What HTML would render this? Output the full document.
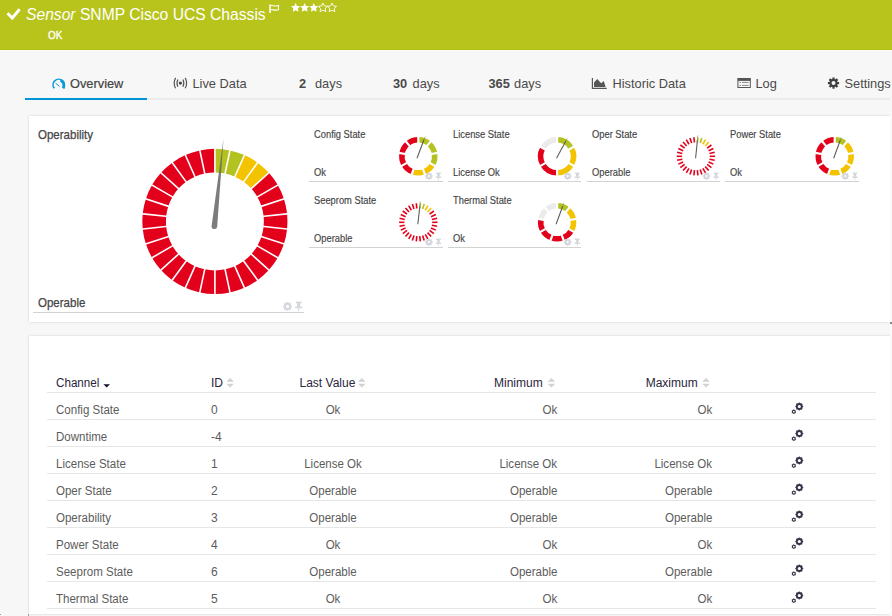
<!DOCTYPE html>
<html><head><meta charset="utf-8"><title>Sensor SNMP Cisco UCS Chassis</title>
<style>
html,body{margin:0;padding:0}
body{width:892px;height:616px;overflow:hidden;position:relative;background:#f7f7f7;font-family:"Liberation Sans",sans-serif}
.t{position:absolute;line-height:1;white-space:nowrap}
.panel{position:absolute;background:#fff;box-shadow:0 0 1px rgba(0,0,0,0.22),0 0 4px rgba(0,0,0,0.06)}
svg{position:absolute;left:0;top:0}
</style></head><body>
<div style="position:absolute;left:0;top:0;width:892px;height:50px;background:#b8c41c"></div><div style="position:absolute;left:0;top:49px;width:892px;height:1px;background:#b2bf0e"></div><div style="position:absolute;left:0;top:50px;width:892px;height:1px;background:#fcfcfd"></div><div class="t" style="left:26.3px;top:6.40px;font-size:16.3px;color:#fff;font-weight:normal;font-style:normal;transform:scaleX(0.961);transform-origin:0 0;"><i>Sensor</i> SNMP Cisco UCS Chassis</div><div class="t" style="left:47.6px;top:29.73px;font-size:10.6px;color:#fff;font-weight:normal;font-style:normal;-webkit-text-stroke:0.35px #fff;transform:scaleX(0.93);transform-origin:0 0;">OK</div><div class="t" style="left:70px;top:77.96px;font-size:12.8px;color:#444;font-weight:normal;font-style:normal;-webkit-text-stroke:0.2px #444;">Overview</div><div class="t" style="left:192.5px;top:77.96px;font-size:12.8px;color:#4a4a4a;font-weight:normal;font-style:normal;">Live Data</div><div class="t" style="left:299px;top:77.96px;font-size:12.8px;color:#4a4a4a;font-weight:normal;font-style:normal;"><b>2</b></div><div class="t" style="left:315px;top:77.96px;font-size:12.8px;color:#4a4a4a;font-weight:normal;font-style:normal;">days</div><div class="t" style="left:393px;top:77.96px;font-size:12.8px;color:#4a4a4a;font-weight:normal;font-style:normal;"><b>30</b></div><div class="t" style="left:412.6px;top:77.96px;font-size:12.8px;color:#4a4a4a;font-weight:normal;font-style:normal;">days</div><div class="t" style="left:488.5px;top:77.96px;font-size:12.8px;color:#4a4a4a;font-weight:normal;font-style:normal;"><b>365</b></div><div class="t" style="left:514.1px;top:77.96px;font-size:12.8px;color:#4a4a4a;font-weight:normal;font-style:normal;">days</div><div class="t" style="left:612.5px;top:77.96px;font-size:12.8px;color:#4a4a4a;font-weight:normal;font-style:normal;">Historic Data</div><div class="t" style="left:755.5px;top:77.96px;font-size:12.8px;color:#4a4a4a;font-weight:normal;font-style:normal;">Log</div><div class="t" style="left:844.5px;top:77.96px;font-size:12.8px;color:#4a4a4a;font-weight:normal;font-style:normal;">Settings</div><div style="position:absolute;left:25px;top:98px;width:865px;height:2px;background:#ebebeb"></div><div style="position:absolute;left:25px;top:98px;width:122px;height:2px;background:#0095d5"></div><div class="panel" style="left:29px;top:116px;width:861px;height:206px"></div><div class="panel" style="left:29px;top:336px;width:861px;height:278px"></div><div style="position:absolute;left:890px;top:112px;width:2px;height:504px;background:#fafafa"></div><div style="position:absolute;left:890px;top:322px;width:2px;height:2px;background:#8a8a8a"></div><div style="position:absolute;left:28px;top:614px;width:1px;height:2px;background:#9a9a9a"></div><div style="position:absolute;left:0px;top:614px;width:1px;height:1px;background:#9a9a9a"></div><div class="t" style="left:37.6px;top:128.70px;font-size:12.4px;color:#444;font-weight:normal;font-style:normal;-webkit-text-stroke:0.25px #444;transform:scaleX(0.93);transform-origin:0 0;">Operability</div><div class="t" style="left:37.6px;top:296.70px;font-size:12.4px;color:#444;font-weight:normal;font-style:normal;-webkit-text-stroke:0.25px #444;transform:scaleX(0.93);transform-origin:0 0;">Operable</div><div style="position:absolute;left:33px;top:312px;width:271px;height:1px;background:#d2d2d2"></div><div class="t" style="left:314px;top:129.65px;font-size:10.1px;color:#444;font-weight:normal;font-style:normal;-webkit-text-stroke:0.15px #444;transform:scaleX(0.925);transform-origin:0 0;">Config State</div><div class="t" style="left:314px;top:168.25px;font-size:10.1px;color:#444;font-weight:normal;font-style:normal;-webkit-text-stroke:0.15px #444;transform:scaleX(0.925);transform-origin:0 0;">Ok</div><div style="position:absolute;left:309px;top:181px;width:133.5px;height:1px;background:#d2d2d2"></div><div class="t" style="left:452.8px;top:129.65px;font-size:10.1px;color:#444;font-weight:normal;font-style:normal;-webkit-text-stroke:0.15px #444;transform:scaleX(0.925);transform-origin:0 0;">License State</div><div class="t" style="left:452.8px;top:168.25px;font-size:10.1px;color:#444;font-weight:normal;font-style:normal;-webkit-text-stroke:0.15px #444;transform:scaleX(0.925);transform-origin:0 0;">License Ok</div><div style="position:absolute;left:447.8px;top:181px;width:133.5px;height:1px;background:#d2d2d2"></div><div class="t" style="left:591.6px;top:129.65px;font-size:10.1px;color:#444;font-weight:normal;font-style:normal;-webkit-text-stroke:0.15px #444;transform:scaleX(0.925);transform-origin:0 0;">Oper State</div><div class="t" style="left:591.6px;top:168.25px;font-size:10.1px;color:#444;font-weight:normal;font-style:normal;-webkit-text-stroke:0.15px #444;transform:scaleX(0.925);transform-origin:0 0;">Operable</div><div style="position:absolute;left:586.6px;top:181px;width:133.5px;height:1px;background:#d2d2d2"></div><div class="t" style="left:730.4px;top:129.65px;font-size:10.1px;color:#444;font-weight:normal;font-style:normal;-webkit-text-stroke:0.15px #444;transform:scaleX(0.925);transform-origin:0 0;">Power State</div><div class="t" style="left:730.4px;top:168.25px;font-size:10.1px;color:#444;font-weight:normal;font-style:normal;-webkit-text-stroke:0.15px #444;transform:scaleX(0.925);transform-origin:0 0;">Ok</div><div style="position:absolute;left:725.4px;top:181px;width:133.5px;height:1px;background:#d2d2d2"></div><div class="t" style="left:314px;top:195.65px;font-size:10.1px;color:#444;font-weight:normal;font-style:normal;-webkit-text-stroke:0.15px #444;transform:scaleX(0.925);transform-origin:0 0;">Seeprom State</div><div class="t" style="left:314px;top:234.25px;font-size:10.1px;color:#444;font-weight:normal;font-style:normal;-webkit-text-stroke:0.15px #444;transform:scaleX(0.925);transform-origin:0 0;">Operable</div><div style="position:absolute;left:309px;top:247px;width:133.5px;height:1px;background:#d2d2d2"></div><div class="t" style="left:452.8px;top:195.65px;font-size:10.1px;color:#444;font-weight:normal;font-style:normal;-webkit-text-stroke:0.15px #444;transform:scaleX(0.925);transform-origin:0 0;">Thermal State</div><div class="t" style="left:452.8px;top:234.25px;font-size:10.1px;color:#444;font-weight:normal;font-style:normal;-webkit-text-stroke:0.15px #444;transform:scaleX(0.925);transform-origin:0 0;">Ok</div><div style="position:absolute;left:447.8px;top:247px;width:133.5px;height:1px;background:#d2d2d2"></div><div class="t" style="left:56px;top:377.14px;font-size:12px;color:#2a2540;font-weight:normal;font-style:normal;transform:scaleX(0.97);transform-origin:0 0;">Channel</div><div class="t" style="left:211px;top:377.14px;font-size:12px;color:#2a2540;font-weight:normal;font-style:normal;">ID</div><div class="t" style="left:299.5px;top:377.14px;font-size:12px;color:#2a2540;font-weight:normal;font-style:normal;">Last Value</div><div class="t" style="left:494px;top:377.14px;font-size:12px;color:#2a2540;font-weight:normal;font-style:normal;">Minimum</div><div class="t" style="left:645.7px;top:377.14px;font-size:12px;color:#2a2540;font-weight:normal;font-style:normal;">Maximum</div><div style="position:absolute;left:47px;top:392px;width:829px;height:1px;background:#e6e6e6"></div><div class="t" style="left:56px;top:404.04px;font-size:12px;color:#5c5c5c;font-weight:normal;font-style:normal;transform:scaleX(0.96);transform-origin:0 0;">Config State</div><div class="t" style="left:211px;top:404.04px;font-size:12px;color:#5c5c5c;font-weight:normal;font-style:normal;">0</div><div class="t" style="left:233.3px;width:200px;text-align:center;top:404.04px;font-size:12px;color:#5c5c5c;font-weight:normal;font-style:normal;transform:scaleX(0.96);transform-origin:50% 0;">Ok</div><div class="t" style="right:335px;text-align:right;top:404.04px;font-size:12px;color:#5c5c5c;font-weight:normal;font-style:normal;transform:scaleX(0.96);transform-origin:100% 0;">Ok</div><div class="t" style="right:180px;text-align:right;top:404.04px;font-size:12px;color:#5c5c5c;font-weight:normal;font-style:normal;transform:scaleX(0.96);transform-origin:100% 0;">Ok</div><div style="position:absolute;left:47px;top:419px;width:829px;height:1px;background:#e6e6e6"></div><div class="t" style="left:56px;top:431.04px;font-size:12px;color:#5c5c5c;font-weight:normal;font-style:normal;transform:scaleX(0.96);transform-origin:0 0;">Downtime</div><div class="t" style="left:211px;top:431.04px;font-size:12px;color:#5c5c5c;font-weight:normal;font-style:normal;">-4</div><div style="position:absolute;left:47px;top:446px;width:829px;height:1px;background:#e6e6e6"></div><div class="t" style="left:56px;top:458.04px;font-size:12px;color:#5c5c5c;font-weight:normal;font-style:normal;transform:scaleX(0.96);transform-origin:0 0;">License State</div><div class="t" style="left:211px;top:458.04px;font-size:12px;color:#5c5c5c;font-weight:normal;font-style:normal;">1</div><div class="t" style="left:233.3px;width:200px;text-align:center;top:458.04px;font-size:12px;color:#5c5c5c;font-weight:normal;font-style:normal;transform:scaleX(0.96);transform-origin:50% 0;">License Ok</div><div class="t" style="right:335px;text-align:right;top:458.04px;font-size:12px;color:#5c5c5c;font-weight:normal;font-style:normal;transform:scaleX(0.96);transform-origin:100% 0;">License Ok</div><div class="t" style="right:180px;text-align:right;top:458.04px;font-size:12px;color:#5c5c5c;font-weight:normal;font-style:normal;transform:scaleX(0.96);transform-origin:100% 0;">License Ok</div><div style="position:absolute;left:47px;top:473px;width:829px;height:1px;background:#e6e6e6"></div><div class="t" style="left:56px;top:485.04px;font-size:12px;color:#5c5c5c;font-weight:normal;font-style:normal;transform:scaleX(0.96);transform-origin:0 0;">Oper State</div><div class="t" style="left:211px;top:485.04px;font-size:12px;color:#5c5c5c;font-weight:normal;font-style:normal;">2</div><div class="t" style="left:233.3px;width:200px;text-align:center;top:485.04px;font-size:12px;color:#5c5c5c;font-weight:normal;font-style:normal;transform:scaleX(0.96);transform-origin:50% 0;">Operable</div><div class="t" style="right:335px;text-align:right;top:485.04px;font-size:12px;color:#5c5c5c;font-weight:normal;font-style:normal;transform:scaleX(0.96);transform-origin:100% 0;">Operable</div><div class="t" style="right:180px;text-align:right;top:485.04px;font-size:12px;color:#5c5c5c;font-weight:normal;font-style:normal;transform:scaleX(0.96);transform-origin:100% 0;">Operable</div><div style="position:absolute;left:47px;top:500px;width:829px;height:1px;background:#e6e6e6"></div><div class="t" style="left:56px;top:512.04px;font-size:12px;color:#5c5c5c;font-weight:normal;font-style:normal;transform:scaleX(0.96);transform-origin:0 0;">Operability</div><div class="t" style="left:211px;top:512.04px;font-size:12px;color:#5c5c5c;font-weight:normal;font-style:normal;">3</div><div class="t" style="left:233.3px;width:200px;text-align:center;top:512.04px;font-size:12px;color:#5c5c5c;font-weight:normal;font-style:normal;transform:scaleX(0.96);transform-origin:50% 0;">Operable</div><div class="t" style="right:335px;text-align:right;top:512.04px;font-size:12px;color:#5c5c5c;font-weight:normal;font-style:normal;transform:scaleX(0.96);transform-origin:100% 0;">Operable</div><div class="t" style="right:180px;text-align:right;top:512.04px;font-size:12px;color:#5c5c5c;font-weight:normal;font-style:normal;transform:scaleX(0.96);transform-origin:100% 0;">Operable</div><div style="position:absolute;left:47px;top:527px;width:829px;height:1px;background:#e6e6e6"></div><div class="t" style="left:56px;top:539.04px;font-size:12px;color:#5c5c5c;font-weight:normal;font-style:normal;transform:scaleX(0.96);transform-origin:0 0;">Power State</div><div class="t" style="left:211px;top:539.04px;font-size:12px;color:#5c5c5c;font-weight:normal;font-style:normal;">4</div><div class="t" style="left:233.3px;width:200px;text-align:center;top:539.04px;font-size:12px;color:#5c5c5c;font-weight:normal;font-style:normal;transform:scaleX(0.96);transform-origin:50% 0;">Ok</div><div class="t" style="right:335px;text-align:right;top:539.04px;font-size:12px;color:#5c5c5c;font-weight:normal;font-style:normal;transform:scaleX(0.96);transform-origin:100% 0;">Ok</div><div class="t" style="right:180px;text-align:right;top:539.04px;font-size:12px;color:#5c5c5c;font-weight:normal;font-style:normal;transform:scaleX(0.96);transform-origin:100% 0;">Ok</div><div style="position:absolute;left:47px;top:554px;width:829px;height:1px;background:#e6e6e6"></div><div class="t" style="left:56px;top:566.04px;font-size:12px;color:#5c5c5c;font-weight:normal;font-style:normal;transform:scaleX(0.96);transform-origin:0 0;">Seeprom State</div><div class="t" style="left:211px;top:566.04px;font-size:12px;color:#5c5c5c;font-weight:normal;font-style:normal;">6</div><div class="t" style="left:233.3px;width:200px;text-align:center;top:566.04px;font-size:12px;color:#5c5c5c;font-weight:normal;font-style:normal;transform:scaleX(0.96);transform-origin:50% 0;">Operable</div><div class="t" style="right:335px;text-align:right;top:566.04px;font-size:12px;color:#5c5c5c;font-weight:normal;font-style:normal;transform:scaleX(0.96);transform-origin:100% 0;">Operable</div><div class="t" style="right:180px;text-align:right;top:566.04px;font-size:12px;color:#5c5c5c;font-weight:normal;font-style:normal;transform:scaleX(0.96);transform-origin:100% 0;">Operable</div><div style="position:absolute;left:47px;top:581px;width:829px;height:1px;background:#e6e6e6"></div><div class="t" style="left:56px;top:593.04px;font-size:12px;color:#5c5c5c;font-weight:normal;font-style:normal;transform:scaleX(0.96);transform-origin:0 0;">Thermal State</div><div class="t" style="left:211px;top:593.04px;font-size:12px;color:#5c5c5c;font-weight:normal;font-style:normal;">5</div><div class="t" style="left:233.3px;width:200px;text-align:center;top:593.04px;font-size:12px;color:#5c5c5c;font-weight:normal;font-style:normal;transform:scaleX(0.96);transform-origin:50% 0;">Ok</div><div class="t" style="right:335px;text-align:right;top:593.04px;font-size:12px;color:#5c5c5c;font-weight:normal;font-style:normal;transform:scaleX(0.96);transform-origin:100% 0;">Ok</div><div class="t" style="right:180px;text-align:right;top:593.04px;font-size:12px;color:#5c5c5c;font-weight:normal;font-style:normal;transform:scaleX(0.96);transform-origin:100% 0;">Ok</div><div style="position:absolute;left:47px;top:608px;width:829px;height:1px;background:#e6e6e6"></div>
<svg width="892" height="616" viewBox="0 0 892 616"><path d="M214.90,148.80A72.6,72.6 0 0 1 229.99,150.39L225.09,173.47A49,49 0 0 0 214.90,172.40Z" fill="#b3c21e"/><path d="M229.99,150.39A72.6,72.6 0 0 1 244.43,155.08L234.83,176.64A49,49 0 0 0 225.09,173.47Z" fill="#b3c21e"/><path d="M244.43,155.08A72.6,72.6 0 0 1 257.57,162.67L243.70,181.76A49,49 0 0 0 234.83,176.64Z" fill="#f4c300"/><path d="M257.57,162.67A72.6,72.6 0 0 1 268.85,172.82L251.31,188.61A49,49 0 0 0 243.70,181.76Z" fill="#f4c300"/><path d="M268.85,172.82A72.6,72.6 0 0 1 277.77,185.10L257.34,196.90A49,49 0 0 0 251.31,188.61Z" fill="#e3001b"/><path d="M277.77,185.10A72.6,72.6 0 0 1 283.95,198.97L261.50,206.26A49,49 0 0 0 257.34,196.90Z" fill="#e3001b"/><path d="M283.95,198.97A72.6,72.6 0 0 1 287.10,213.81L263.63,216.28A49,49 0 0 0 261.50,206.26Z" fill="#e3001b"/><path d="M287.10,213.81A72.6,72.6 0 0 1 287.10,228.99L263.63,226.52A49,49 0 0 0 263.63,216.28Z" fill="#e3001b"/><path d="M287.10,228.99A72.6,72.6 0 0 1 283.95,243.83L261.50,236.54A49,49 0 0 0 263.63,226.52Z" fill="#e3001b"/><path d="M283.95,243.83A72.6,72.6 0 0 1 277.77,257.70L257.34,245.90A49,49 0 0 0 261.50,236.54Z" fill="#e3001b"/><path d="M277.77,257.70A72.6,72.6 0 0 1 268.85,269.98L251.31,254.19A49,49 0 0 0 257.34,245.90Z" fill="#e3001b"/><path d="M268.85,269.98A72.6,72.6 0 0 1 257.57,280.13L243.70,261.04A49,49 0 0 0 251.31,254.19Z" fill="#e3001b"/><path d="M257.57,280.13A72.6,72.6 0 0 1 244.43,287.72L234.83,266.16A49,49 0 0 0 243.70,261.04Z" fill="#e3001b"/><path d="M244.43,287.72A72.6,72.6 0 0 1 229.99,292.41L225.09,269.33A49,49 0 0 0 234.83,266.16Z" fill="#e3001b"/><path d="M229.99,292.41A72.6,72.6 0 0 1 214.90,294.00L214.90,270.40A49,49 0 0 0 225.09,269.33Z" fill="#e3001b"/><path d="M214.90,294.00A72.6,72.6 0 0 1 199.81,292.41L204.71,269.33A49,49 0 0 0 214.90,270.40Z" fill="#e3001b"/><path d="M199.81,292.41A72.6,72.6 0 0 1 185.37,287.72L194.97,266.16A49,49 0 0 0 204.71,269.33Z" fill="#e3001b"/><path d="M185.37,287.72A72.6,72.6 0 0 1 172.23,280.13L186.10,261.04A49,49 0 0 0 194.97,266.16Z" fill="#e3001b"/><path d="M172.23,280.13A72.6,72.6 0 0 1 160.95,269.98L178.49,254.19A49,49 0 0 0 186.10,261.04Z" fill="#e3001b"/><path d="M160.95,269.98A72.6,72.6 0 0 1 152.03,257.70L172.46,245.90A49,49 0 0 0 178.49,254.19Z" fill="#e3001b"/><path d="M152.03,257.70A72.6,72.6 0 0 1 145.85,243.83L168.30,236.54A49,49 0 0 0 172.46,245.90Z" fill="#e3001b"/><path d="M145.85,243.83A72.6,72.6 0 0 1 142.70,228.99L166.17,226.52A49,49 0 0 0 168.30,236.54Z" fill="#e3001b"/><path d="M142.70,228.99A72.6,72.6 0 0 1 142.70,213.81L166.17,216.28A49,49 0 0 0 166.17,226.52Z" fill="#e3001b"/><path d="M142.70,213.81A72.6,72.6 0 0 1 145.85,198.97L168.30,206.26A49,49 0 0 0 166.17,216.28Z" fill="#e3001b"/><path d="M145.85,198.97A72.6,72.6 0 0 1 152.03,185.10L172.46,196.90A49,49 0 0 0 168.30,206.26Z" fill="#e3001b"/><path d="M152.03,185.10A72.6,72.6 0 0 1 160.95,172.82L178.49,188.61A49,49 0 0 0 172.46,196.90Z" fill="#e3001b"/><path d="M160.95,172.82A72.6,72.6 0 0 1 172.23,162.67L186.10,181.76A49,49 0 0 0 178.49,188.61Z" fill="#e3001b"/><path d="M172.23,162.67A72.6,72.6 0 0 1 185.37,155.08L194.97,176.64A49,49 0 0 0 186.10,181.76Z" fill="#e3001b"/><path d="M185.37,155.08A72.6,72.6 0 0 1 199.81,150.39L204.71,173.47A49,49 0 0 0 194.97,176.64Z" fill="#e3001b"/><path d="M199.81,150.39A72.6,72.6 0 0 1 214.90,148.80L214.90,172.40A49,49 0 0 0 204.71,173.47Z" fill="#e3001b"/><line x1="214.90" y1="174.40" x2="214.90" y2="146.80" stroke="#fff" stroke-width="1.6"/><line x1="224.67" y1="175.43" x2="230.41" y2="148.43" stroke="#fff" stroke-width="1.6"/><line x1="234.02" y1="178.46" x2="245.24" y2="153.25" stroke="#fff" stroke-width="1.6"/><line x1="242.53" y1="183.38" x2="258.75" y2="161.05" stroke="#fff" stroke-width="1.6"/><line x1="249.83" y1="189.95" x2="270.34" y2="171.48" stroke="#fff" stroke-width="1.6"/><line x1="255.60" y1="197.90" x2="279.51" y2="184.10" stroke="#fff" stroke-width="1.6"/><line x1="259.60" y1="206.88" x2="285.85" y2="198.35" stroke="#fff" stroke-width="1.6"/><line x1="261.64" y1="216.49" x2="289.09" y2="213.60" stroke="#fff" stroke-width="1.6"/><line x1="261.64" y1="226.31" x2="289.09" y2="229.20" stroke="#fff" stroke-width="1.6"/><line x1="259.60" y1="235.92" x2="285.85" y2="244.45" stroke="#fff" stroke-width="1.6"/><line x1="255.60" y1="244.90" x2="279.51" y2="258.70" stroke="#fff" stroke-width="1.6"/><line x1="249.83" y1="252.85" x2="270.34" y2="271.32" stroke="#fff" stroke-width="1.6"/><line x1="242.53" y1="259.42" x2="258.75" y2="281.75" stroke="#fff" stroke-width="1.6"/><line x1="234.02" y1="264.34" x2="245.24" y2="289.55" stroke="#fff" stroke-width="1.6"/><line x1="224.67" y1="267.37" x2="230.41" y2="294.37" stroke="#fff" stroke-width="1.6"/><line x1="214.90" y1="268.40" x2="214.90" y2="296.00" stroke="#fff" stroke-width="1.6"/><line x1="205.13" y1="267.37" x2="199.39" y2="294.37" stroke="#fff" stroke-width="1.6"/><line x1="195.78" y1="264.34" x2="184.56" y2="289.55" stroke="#fff" stroke-width="1.6"/><line x1="187.27" y1="259.42" x2="171.05" y2="281.75" stroke="#fff" stroke-width="1.6"/><line x1="179.97" y1="252.85" x2="159.46" y2="271.32" stroke="#fff" stroke-width="1.6"/><line x1="174.20" y1="244.90" x2="150.29" y2="258.70" stroke="#fff" stroke-width="1.6"/><line x1="170.20" y1="235.92" x2="143.95" y2="244.45" stroke="#fff" stroke-width="1.6"/><line x1="168.16" y1="226.31" x2="140.71" y2="229.20" stroke="#fff" stroke-width="1.6"/><line x1="168.16" y1="216.49" x2="140.71" y2="213.60" stroke="#fff" stroke-width="1.6"/><line x1="170.20" y1="206.88" x2="143.95" y2="198.35" stroke="#fff" stroke-width="1.6"/><line x1="174.20" y1="197.90" x2="150.29" y2="184.10" stroke="#fff" stroke-width="1.6"/><line x1="179.97" y1="189.95" x2="159.46" y2="171.48" stroke="#fff" stroke-width="1.6"/><line x1="187.27" y1="183.38" x2="171.05" y2="161.05" stroke="#fff" stroke-width="1.6"/><line x1="195.78" y1="178.46" x2="184.56" y2="153.25" stroke="#fff" stroke-width="1.6"/><line x1="205.13" y1="175.43" x2="199.39" y2="148.43" stroke="#fff" stroke-width="1.6"/><path d="M217.19,226.49L223.50,138.50L211.61,225.91A2.8,2.8 0 0 0 217.19,226.49Z" fill="#666" fill-opacity="0.86"/><path d="M418.30,137.10A19.2,19.2 0 0 1 430.64,141.59L427.11,145.81A13.7,13.7 0 0 0 418.30,142.60Z" fill="#b3c21e"/><path d="M430.64,141.59A19.2,19.2 0 0 1 437.21,152.97L431.79,153.92A13.7,13.7 0 0 0 427.11,145.81Z" fill="#b3c21e"/><path d="M437.21,152.97A19.2,19.2 0 0 1 434.93,165.90L430.16,163.15A13.7,13.7 0 0 0 431.79,153.92Z" fill="#b3c21e"/><path d="M434.93,165.90A19.2,19.2 0 0 1 424.87,174.34L422.99,169.17A13.7,13.7 0 0 0 430.16,163.15Z" fill="#f4c300"/><path d="M424.87,174.34A19.2,19.2 0 0 1 411.73,174.34L413.61,169.17A13.7,13.7 0 0 0 422.99,169.17Z" fill="#f4c300"/><path d="M411.73,174.34A19.2,19.2 0 0 1 401.67,165.90L406.44,163.15A13.7,13.7 0 0 0 413.61,169.17Z" fill="#e3001b"/><path d="M401.67,165.90A19.2,19.2 0 0 1 399.39,152.97L404.81,153.92A13.7,13.7 0 0 0 406.44,163.15Z" fill="#e3001b"/><path d="M399.39,152.97A19.2,19.2 0 0 1 405.96,141.59L409.49,145.81A13.7,13.7 0 0 0 404.81,153.92Z" fill="#e3001b"/><path d="M405.96,141.59A19.2,19.2 0 0 1 418.30,137.10L418.30,142.60A13.7,13.7 0 0 0 409.49,145.81Z" fill="#e3001b"/><line x1="418.30" y1="144.60" x2="418.30" y2="135.10" stroke="#fff" stroke-width="2.2"/><line x1="425.82" y1="147.34" x2="431.93" y2="140.06" stroke="#fff" stroke-width="2.2"/><line x1="429.82" y1="154.27" x2="439.18" y2="152.62" stroke="#fff" stroke-width="2.2"/><line x1="428.43" y1="162.15" x2="436.66" y2="166.90" stroke="#fff" stroke-width="2.2"/><line x1="422.30" y1="167.29" x2="425.55" y2="176.22" stroke="#fff" stroke-width="2.2"/><line x1="414.30" y1="167.29" x2="411.05" y2="176.22" stroke="#fff" stroke-width="2.2"/><line x1="408.17" y1="162.15" x2="399.94" y2="166.90" stroke="#fff" stroke-width="2.2"/><line x1="406.78" y1="154.27" x2="397.42" y2="152.62" stroke="#fff" stroke-width="2.2"/><line x1="410.78" y1="147.34" x2="404.67" y2="140.06" stroke="#fff" stroke-width="2.2"/><line x1="417.00" y1="158.30" x2="424.05" y2="139.55" stroke="#5a5a5a" stroke-width="1.05"/><line x1="424.05" y1="139.55" x2="425.20" y2="136.50" stroke="#777" stroke-opacity="0.7" stroke-width="0.7"/><path d="M557.10,137.10A19.2,19.2 0 0 1 573.73,146.70L568.96,149.45A13.7,13.7 0 0 0 557.10,142.60Z" fill="#b3c21e"/><path d="M573.73,146.70A19.2,19.2 0 0 1 573.73,165.90L568.96,163.15A13.7,13.7 0 0 0 568.96,149.45Z" fill="#f4c300"/><path d="M573.73,165.90A19.2,19.2 0 0 1 557.10,175.50L557.10,170.00A13.7,13.7 0 0 0 568.96,163.15Z" fill="#f4c300"/><path d="M557.10,175.50A19.2,19.2 0 0 1 540.47,165.90L545.24,163.15A13.7,13.7 0 0 0 557.10,170.00Z" fill="#e3001b"/><path d="M540.47,165.90A19.2,19.2 0 0 1 540.47,146.70L545.24,149.45A13.7,13.7 0 0 0 545.24,163.15Z" fill="#e3001b"/><path d="M540.47,146.70A19.2,19.2 0 0 1 557.10,137.10L557.10,142.60A13.7,13.7 0 0 0 545.24,149.45Z" fill="#ebebeb"/><line x1="557.10" y1="144.60" x2="557.10" y2="135.10" stroke="#fff" stroke-width="2.2"/><line x1="567.23" y1="150.45" x2="575.46" y2="145.70" stroke="#fff" stroke-width="2.2"/><line x1="567.23" y1="162.15" x2="575.46" y2="166.90" stroke="#fff" stroke-width="2.2"/><line x1="557.10" y1="168.00" x2="557.10" y2="177.50" stroke="#fff" stroke-width="2.2"/><line x1="546.97" y1="162.15" x2="538.74" y2="166.90" stroke="#fff" stroke-width="2.2"/><line x1="546.97" y1="150.45" x2="538.74" y2="145.70" stroke="#fff" stroke-width="2.2"/><line x1="556.50" y1="158.30" x2="565.87" y2="141.10" stroke="#5a5a5a" stroke-width="1.05"/><line x1="565.87" y1="141.10" x2="567.40" y2="138.30" stroke="#777" stroke-opacity="0.7" stroke-width="0.7"/><line x1="697.35" y1="142.48" x2="697.91" y2="137.21" stroke="#b3c21e" stroke-width="1.6"/><line x1="700.20" y1="143.08" x2="701.83" y2="138.04" stroke="#b3c21e" stroke-width="1.6"/><line x1="702.85" y1="144.26" x2="705.50" y2="139.67" stroke="#f4c300" stroke-width="1.6"/><line x1="705.20" y1="145.97" x2="708.75" y2="142.03" stroke="#f4c300" stroke-width="1.6"/><line x1="707.15" y1="148.13" x2="711.43" y2="145.01" stroke="#e3001b" stroke-width="1.6"/><line x1="708.60" y1="150.65" x2="713.44" y2="148.49" stroke="#e3001b" stroke-width="1.6"/><line x1="709.50" y1="153.41" x2="714.68" y2="152.31" stroke="#e3001b" stroke-width="1.6"/><line x1="709.80" y1="156.30" x2="715.10" y2="156.30" stroke="#e3001b" stroke-width="1.6"/><line x1="709.50" y1="159.19" x2="714.68" y2="160.29" stroke="#e3001b" stroke-width="1.6"/><line x1="708.60" y1="161.95" x2="713.44" y2="164.11" stroke="#e3001b" stroke-width="1.6"/><line x1="707.15" y1="164.47" x2="711.43" y2="167.59" stroke="#e3001b" stroke-width="1.6"/><line x1="705.20" y1="166.63" x2="708.75" y2="170.57" stroke="#e3001b" stroke-width="1.6"/><line x1="702.85" y1="168.34" x2="705.50" y2="172.93" stroke="#e3001b" stroke-width="1.6"/><line x1="700.20" y1="169.52" x2="701.83" y2="174.56" stroke="#e3001b" stroke-width="1.6"/><line x1="697.35" y1="170.12" x2="697.91" y2="175.39" stroke="#e3001b" stroke-width="1.6"/><line x1="694.45" y1="170.12" x2="693.89" y2="175.39" stroke="#e3001b" stroke-width="1.6"/><line x1="691.60" y1="169.52" x2="689.97" y2="174.56" stroke="#e3001b" stroke-width="1.6"/><line x1="688.95" y1="168.34" x2="686.30" y2="172.93" stroke="#e3001b" stroke-width="1.6"/><line x1="686.60" y1="166.63" x2="683.05" y2="170.57" stroke="#e3001b" stroke-width="1.6"/><line x1="684.65" y1="164.47" x2="680.37" y2="167.59" stroke="#e3001b" stroke-width="1.6"/><line x1="683.20" y1="161.95" x2="678.36" y2="164.11" stroke="#e3001b" stroke-width="1.6"/><line x1="682.30" y1="159.19" x2="677.12" y2="160.29" stroke="#e3001b" stroke-width="1.6"/><line x1="682.00" y1="156.30" x2="676.70" y2="156.30" stroke="#e3001b" stroke-width="1.6"/><line x1="682.30" y1="153.41" x2="677.12" y2="152.31" stroke="#e3001b" stroke-width="1.6"/><line x1="683.20" y1="150.65" x2="678.36" y2="148.49" stroke="#e3001b" stroke-width="1.6"/><line x1="684.65" y1="148.13" x2="680.37" y2="145.01" stroke="#e3001b" stroke-width="1.6"/><line x1="686.60" y1="145.97" x2="683.05" y2="142.03" stroke="#e3001b" stroke-width="1.6"/><line x1="688.95" y1="144.26" x2="686.30" y2="139.67" stroke="#e3001b" stroke-width="1.6"/><line x1="691.60" y1="143.08" x2="689.97" y2="138.04" stroke="#e3001b" stroke-width="1.6"/><line x1="694.45" y1="142.48" x2="693.89" y2="137.21" stroke="#e3001b" stroke-width="1.6"/><line x1="695.60" y1="158.30" x2="697.39" y2="140.36" stroke="#5a5a5a" stroke-width="1.05"/><line x1="697.39" y1="140.36" x2="697.90" y2="135.30" stroke="#777" stroke-opacity="0.7" stroke-width="0.7"/><path d="M834.70,137.10A19.2,19.2 0 0 1 847.04,141.59L843.51,145.81A13.7,13.7 0 0 0 834.70,142.60Z" fill="#b3c21e"/><path d="M847.04,141.59A19.2,19.2 0 0 1 853.61,152.97L848.19,153.92A13.7,13.7 0 0 0 843.51,145.81Z" fill="#f4c300"/><path d="M853.61,152.97A19.2,19.2 0 0 1 851.33,165.90L846.56,163.15A13.7,13.7 0 0 0 848.19,153.92Z" fill="#f4c300"/><path d="M851.33,165.90A19.2,19.2 0 0 1 841.27,174.34L839.39,169.17A13.7,13.7 0 0 0 846.56,163.15Z" fill="#f4c300"/><path d="M841.27,174.34A19.2,19.2 0 0 1 828.13,174.34L830.01,169.17A13.7,13.7 0 0 0 839.39,169.17Z" fill="#f4c300"/><path d="M828.13,174.34A19.2,19.2 0 0 1 818.07,165.90L822.84,163.15A13.7,13.7 0 0 0 830.01,169.17Z" fill="#e3001b"/><path d="M818.07,165.90A19.2,19.2 0 0 1 815.79,152.97L821.21,153.92A13.7,13.7 0 0 0 822.84,163.15Z" fill="#e3001b"/><path d="M815.79,152.97A19.2,19.2 0 0 1 822.36,141.59L825.89,145.81A13.7,13.7 0 0 0 821.21,153.92Z" fill="#e3001b"/><path d="M822.36,141.59A19.2,19.2 0 0 1 834.70,137.10L834.70,142.60A13.7,13.7 0 0 0 825.89,145.81Z" fill="#e3001b"/><line x1="834.70" y1="144.60" x2="834.70" y2="135.10" stroke="#fff" stroke-width="2.2"/><line x1="842.22" y1="147.34" x2="848.33" y2="140.06" stroke="#fff" stroke-width="2.2"/><line x1="846.22" y1="154.27" x2="855.58" y2="152.62" stroke="#fff" stroke-width="2.2"/><line x1="844.83" y1="162.15" x2="853.06" y2="166.90" stroke="#fff" stroke-width="2.2"/><line x1="838.70" y1="167.29" x2="841.95" y2="176.22" stroke="#fff" stroke-width="2.2"/><line x1="830.70" y1="167.29" x2="827.45" y2="176.22" stroke="#fff" stroke-width="2.2"/><line x1="824.57" y1="162.15" x2="816.34" y2="166.90" stroke="#fff" stroke-width="2.2"/><line x1="823.18" y1="154.27" x2="813.82" y2="152.62" stroke="#fff" stroke-width="2.2"/><line x1="827.18" y1="147.34" x2="821.07" y2="140.06" stroke="#fff" stroke-width="2.2"/><line x1="833.70" y1="158.30" x2="840.24" y2="140.24" stroke="#5a5a5a" stroke-width="1.05"/><line x1="840.24" y1="140.24" x2="841.30" y2="137.30" stroke="#777" stroke-opacity="0.7" stroke-width="0.7"/><line x1="419.75" y1="208.48" x2="420.31" y2="203.21" stroke="#b3c21e" stroke-width="1.6"/><line x1="422.60" y1="209.08" x2="424.23" y2="204.04" stroke="#b3c21e" stroke-width="1.6"/><line x1="425.25" y1="210.26" x2="427.90" y2="205.67" stroke="#f4c300" stroke-width="1.6"/><line x1="427.60" y1="211.97" x2="431.15" y2="208.03" stroke="#f4c300" stroke-width="1.6"/><line x1="429.55" y1="214.13" x2="433.83" y2="211.01" stroke="#e3001b" stroke-width="1.6"/><line x1="431.00" y1="216.65" x2="435.84" y2="214.49" stroke="#e3001b" stroke-width="1.6"/><line x1="431.90" y1="219.41" x2="437.08" y2="218.31" stroke="#e3001b" stroke-width="1.6"/><line x1="432.20" y1="222.30" x2="437.50" y2="222.30" stroke="#e3001b" stroke-width="1.6"/><line x1="431.90" y1="225.19" x2="437.08" y2="226.29" stroke="#e3001b" stroke-width="1.6"/><line x1="431.00" y1="227.95" x2="435.84" y2="230.11" stroke="#e3001b" stroke-width="1.6"/><line x1="429.55" y1="230.47" x2="433.83" y2="233.59" stroke="#e3001b" stroke-width="1.6"/><line x1="427.60" y1="232.63" x2="431.15" y2="236.57" stroke="#e3001b" stroke-width="1.6"/><line x1="425.25" y1="234.34" x2="427.90" y2="238.93" stroke="#e3001b" stroke-width="1.6"/><line x1="422.60" y1="235.52" x2="424.23" y2="240.56" stroke="#e3001b" stroke-width="1.6"/><line x1="419.75" y1="236.12" x2="420.31" y2="241.39" stroke="#e3001b" stroke-width="1.6"/><line x1="416.85" y1="236.12" x2="416.29" y2="241.39" stroke="#e3001b" stroke-width="1.6"/><line x1="414.00" y1="235.52" x2="412.37" y2="240.56" stroke="#e3001b" stroke-width="1.6"/><line x1="411.35" y1="234.34" x2="408.70" y2="238.93" stroke="#e3001b" stroke-width="1.6"/><line x1="409.00" y1="232.63" x2="405.45" y2="236.57" stroke="#e3001b" stroke-width="1.6"/><line x1="407.05" y1="230.47" x2="402.77" y2="233.59" stroke="#e3001b" stroke-width="1.6"/><line x1="405.60" y1="227.95" x2="400.76" y2="230.11" stroke="#e3001b" stroke-width="1.6"/><line x1="404.70" y1="225.19" x2="399.52" y2="226.29" stroke="#e3001b" stroke-width="1.6"/><line x1="404.40" y1="222.30" x2="399.10" y2="222.30" stroke="#e3001b" stroke-width="1.6"/><line x1="404.70" y1="219.41" x2="399.52" y2="218.31" stroke="#e3001b" stroke-width="1.6"/><line x1="405.60" y1="216.65" x2="400.76" y2="214.49" stroke="#e3001b" stroke-width="1.6"/><line x1="407.05" y1="214.13" x2="402.77" y2="211.01" stroke="#e3001b" stroke-width="1.6"/><line x1="409.00" y1="211.97" x2="405.45" y2="208.03" stroke="#e3001b" stroke-width="1.6"/><line x1="411.35" y1="210.26" x2="408.70" y2="205.67" stroke="#e3001b" stroke-width="1.6"/><line x1="414.00" y1="209.08" x2="412.37" y2="204.04" stroke="#e3001b" stroke-width="1.6"/><line x1="416.85" y1="208.48" x2="416.29" y2="203.21" stroke="#e3001b" stroke-width="1.6"/><line x1="417.80" y1="224.30" x2="419.83" y2="206.36" stroke="#5a5a5a" stroke-width="1.05"/><line x1="419.83" y1="206.36" x2="420.40" y2="201.30" stroke="#777" stroke-opacity="0.7" stroke-width="0.7"/><path d="M557.10,203.10A19.2,19.2 0 0 1 569.44,207.59L565.91,211.81A13.7,13.7 0 0 0 557.10,208.60Z" fill="#b3c21e"/><path d="M569.44,207.59A19.2,19.2 0 0 1 576.01,218.97L570.59,219.92A13.7,13.7 0 0 0 565.91,211.81Z" fill="#f4c300"/><path d="M576.01,218.97A19.2,19.2 0 0 1 573.73,231.90L568.96,229.15A13.7,13.7 0 0 0 570.59,219.92Z" fill="#f4c300"/><path d="M573.73,231.90A19.2,19.2 0 0 1 563.67,240.34L561.79,235.17A13.7,13.7 0 0 0 568.96,229.15Z" fill="#e3001b"/><path d="M563.67,240.34A19.2,19.2 0 0 1 550.53,240.34L552.41,235.17A13.7,13.7 0 0 0 561.79,235.17Z" fill="#e3001b"/><path d="M550.53,240.34A19.2,19.2 0 0 1 540.47,231.90L545.24,229.15A13.7,13.7 0 0 0 552.41,235.17Z" fill="#e3001b"/><path d="M540.47,231.90A19.2,19.2 0 0 1 538.19,218.97L543.61,219.92A13.7,13.7 0 0 0 545.24,229.15Z" fill="#e3001b"/><path d="M538.19,218.97A19.2,19.2 0 0 1 544.76,207.59L548.29,211.81A13.7,13.7 0 0 0 543.61,219.92Z" fill="#ebebeb"/><path d="M544.76,207.59A19.2,19.2 0 0 1 557.10,203.10L557.10,208.60A13.7,13.7 0 0 0 548.29,211.81Z" fill="#ebebeb"/><line x1="557.10" y1="210.60" x2="557.10" y2="201.10" stroke="#fff" stroke-width="2.2"/><line x1="564.62" y1="213.34" x2="570.73" y2="206.06" stroke="#fff" stroke-width="2.2"/><line x1="568.62" y1="220.27" x2="577.98" y2="218.62" stroke="#fff" stroke-width="2.2"/><line x1="567.23" y1="228.15" x2="575.46" y2="232.90" stroke="#fff" stroke-width="2.2"/><line x1="561.10" y1="233.29" x2="564.35" y2="242.22" stroke="#fff" stroke-width="2.2"/><line x1="553.10" y1="233.29" x2="549.85" y2="242.22" stroke="#fff" stroke-width="2.2"/><line x1="546.97" y1="228.15" x2="538.74" y2="232.90" stroke="#fff" stroke-width="2.2"/><line x1="545.58" y1="220.27" x2="536.22" y2="218.62" stroke="#fff" stroke-width="2.2"/><line x1="549.58" y1="213.34" x2="543.47" y2="206.06" stroke="#fff" stroke-width="2.2"/><line x1="556.10" y1="224.30" x2="562.64" y2="206.24" stroke="#5a5a5a" stroke-width="1.05"/><line x1="562.64" y1="206.24" x2="563.70" y2="203.30" stroke="#777" stroke-opacity="0.7" stroke-width="0.7"/><polyline points="7.5,13.2 12.3,18.0 19.6,9.3" fill="none" stroke="#fff" stroke-width="2.9"/><line x1="270" y1="4.2" x2="270" y2="12.9" stroke="#fff" stroke-width="1.5"/><path d="M270.6,5.7 C272.8,4.9 275,6.9 278.5,5.6 L278.5,9.7 C275,11 272.8,9.1 270.6,9.9" fill="none" stroke="#fff" stroke-width="1.1"/><polygon points="295.60,3.00 296.98,5.90 300.17,6.32 297.83,8.53 298.42,11.68 295.60,10.15 292.78,11.68 293.37,8.53 291.03,6.32 294.22,5.90" fill="#fff"/><polygon points="304.70,3.00 306.08,5.90 309.27,6.32 306.93,8.53 307.52,11.68 304.70,10.15 301.88,11.68 302.47,8.53 300.13,6.32 303.32,5.90" fill="#fff"/><polygon points="313.80,3.00 315.18,5.90 318.37,6.32 316.03,8.53 316.62,11.68 313.80,10.15 310.98,11.68 311.57,8.53 309.23,6.32 312.42,5.90" fill="#fff"/><polygon points="322.90,3.00 324.28,5.90 327.47,6.32 325.13,8.53 325.72,11.68 322.90,10.15 320.08,11.68 320.67,8.53 318.33,6.32 321.52,5.90" fill="none" stroke="#fff" stroke-width="0.9"/><polygon points="332.00,3.00 333.38,5.90 336.57,6.32 334.23,8.53 334.82,11.68 332.00,10.15 329.18,11.68 329.77,8.53 327.43,6.32 330.62,5.90" fill="none" stroke="#fff" stroke-width="0.9"/><path d="M54.2,88.2 A5.6,5.6 0 1 1 63.2,88.2" fill="none" stroke="#0a9ad8" stroke-width="1.6"/><path d="M60.5,80.3 A5.6,5.6 0 0 1 63.2,88.2" fill="none" stroke="#0a9ad8" stroke-width="2.8"/><line x1="55.6" y1="83.3" x2="59.6" y2="86.4" stroke="#0a9ad8" stroke-width="1"/><circle cx="180.4" cy="83.1" r="1.6" fill="#444"/><path d="M177.9,79.5 A8,8 0 0 0 177.9,86.7 M182.9,79.5 A8,8 0 0 1 182.9,86.7" fill="none" stroke="#555" stroke-width="1.2"/><path d="M175.6,77.9 A11,11 0 0 0 175.6,88.3 M185.2,77.9 A11,11 0 0 1 185.2,88.3" fill="none" stroke="#555" stroke-width="1.2"/><path d="M592.4,78 V88.3 H606.8" fill="none" stroke="#555" stroke-width="1.2"/><polygon points="594,87 594,82.6 597.2,79 601.2,83.2 603.8,81 605.6,87" fill="#555"/><rect x="737.9" y="78.5" width="12.4" height="9" fill="none" stroke="#555" stroke-width="1"/><rect x="737.9" y="78.5" width="12.4" height="2.4" fill="#555"/><rect x="739.5" y="81.9" width="1.6" height="1" fill="#888"/><rect x="742" y="81.9" width="6.6" height="1" fill="#888"/><rect x="739.5" y="84.9" width="1.6" height="1" fill="#888"/><rect x="742" y="84.9" width="6.6" height="1" fill="#888"/><g fill="#3d3d3d"><circle cx="833.5" cy="83.1" r="4.0"/><rect x="832.40" y="77.50" width="2.20" height="5.60" transform="rotate(0.0 833.5 83.1)"/><rect x="832.40" y="77.50" width="2.20" height="5.60" transform="rotate(45.0 833.5 83.1)"/><rect x="832.40" y="77.50" width="2.20" height="5.60" transform="rotate(90.0 833.5 83.1)"/><rect x="832.40" y="77.50" width="2.20" height="5.60" transform="rotate(135.0 833.5 83.1)"/><rect x="832.40" y="77.50" width="2.20" height="5.60" transform="rotate(180.0 833.5 83.1)"/><rect x="832.40" y="77.50" width="2.20" height="5.60" transform="rotate(225.0 833.5 83.1)"/><rect x="832.40" y="77.50" width="2.20" height="5.60" transform="rotate(270.0 833.5 83.1)"/><rect x="832.40" y="77.50" width="2.20" height="5.60" transform="rotate(315.0 833.5 83.1)"/></g><circle cx="833.5" cy="83.1" r="2.0" fill="#f7f7f7"/><g fill="#d3d6dc"><circle cx="287.5" cy="306.4" r="3.3000000000000003"/><rect x="286.56" y="302.00" width="1.88" height="4.40" transform="rotate(0.0 287.5 306.4)"/><rect x="286.56" y="302.00" width="1.88" height="4.40" transform="rotate(45.0 287.5 306.4)"/><rect x="286.56" y="302.00" width="1.88" height="4.40" transform="rotate(90.0 287.5 306.4)"/><rect x="286.56" y="302.00" width="1.88" height="4.40" transform="rotate(135.0 287.5 306.4)"/><rect x="286.56" y="302.00" width="1.88" height="4.40" transform="rotate(180.0 287.5 306.4)"/><rect x="286.56" y="302.00" width="1.88" height="4.40" transform="rotate(225.0 287.5 306.4)"/><rect x="286.56" y="302.00" width="1.88" height="4.40" transform="rotate(270.0 287.5 306.4)"/><rect x="286.56" y="302.00" width="1.88" height="4.40" transform="rotate(315.0 287.5 306.4)"/></g><circle cx="287.5" cy="306.4" r="1.6" fill="#fff"/><rect x="295.82" y="301.60" width="5.75" height="1.75" fill="#d3d6dc"/><rect x="297.07" y="303.10" width="3.25" height="3.75" fill="#d3d6dc"/><rect x="295.20" y="306.60" width="7.00" height="1.62" fill="#d3d6dc"/><rect x="298.20" y="308.10" width="1.00" height="3.00" fill="#d3d6dc"/><g fill="#d3d6dc"><circle cx="428.9" cy="176.1" r="2.8499999999999996"/><rect x="428.15" y="172.30" width="1.50" height="3.80" transform="rotate(0.0 428.9 176.1)"/><rect x="428.15" y="172.30" width="1.50" height="3.80" transform="rotate(45.0 428.9 176.1)"/><rect x="428.15" y="172.30" width="1.50" height="3.80" transform="rotate(90.0 428.9 176.1)"/><rect x="428.15" y="172.30" width="1.50" height="3.80" transform="rotate(135.0 428.9 176.1)"/><rect x="428.15" y="172.30" width="1.50" height="3.80" transform="rotate(180.0 428.9 176.1)"/><rect x="428.15" y="172.30" width="1.50" height="3.80" transform="rotate(225.0 428.9 176.1)"/><rect x="428.15" y="172.30" width="1.50" height="3.80" transform="rotate(270.0 428.9 176.1)"/><rect x="428.15" y="172.30" width="1.50" height="3.80" transform="rotate(315.0 428.9 176.1)"/></g><circle cx="428.9" cy="176.1" r="1.1" fill="#fff"/><rect x="436.20" y="172.60" width="4.60" height="1.40" fill="#d3d6dc"/><rect x="437.20" y="173.80" width="2.60" height="3.00" fill="#d3d6dc"/><rect x="435.70" y="176.60" width="5.60" height="1.30" fill="#d3d6dc"/><rect x="438.10" y="177.80" width="0.80" height="2.40" fill="#d3d6dc"/><g fill="#d3d6dc"><circle cx="567.7" cy="176.1" r="2.8499999999999996"/><rect x="566.95" y="172.30" width="1.50" height="3.80" transform="rotate(0.0 567.7 176.1)"/><rect x="566.95" y="172.30" width="1.50" height="3.80" transform="rotate(45.0 567.7 176.1)"/><rect x="566.95" y="172.30" width="1.50" height="3.80" transform="rotate(90.0 567.7 176.1)"/><rect x="566.95" y="172.30" width="1.50" height="3.80" transform="rotate(135.0 567.7 176.1)"/><rect x="566.95" y="172.30" width="1.50" height="3.80" transform="rotate(180.0 567.7 176.1)"/><rect x="566.95" y="172.30" width="1.50" height="3.80" transform="rotate(225.0 567.7 176.1)"/><rect x="566.95" y="172.30" width="1.50" height="3.80" transform="rotate(270.0 567.7 176.1)"/><rect x="566.95" y="172.30" width="1.50" height="3.80" transform="rotate(315.0 567.7 176.1)"/></g><circle cx="567.7" cy="176.1" r="1.1" fill="#fff"/><rect x="575.00" y="172.60" width="4.60" height="1.40" fill="#d3d6dc"/><rect x="576.00" y="173.80" width="2.60" height="3.00" fill="#d3d6dc"/><rect x="574.50" y="176.60" width="5.60" height="1.30" fill="#d3d6dc"/><rect x="576.90" y="177.80" width="0.80" height="2.40" fill="#d3d6dc"/><g fill="#d3d6dc"><circle cx="706.5" cy="176.1" r="2.8499999999999996"/><rect x="705.75" y="172.30" width="1.50" height="3.80" transform="rotate(0.0 706.5 176.1)"/><rect x="705.75" y="172.30" width="1.50" height="3.80" transform="rotate(45.0 706.5 176.1)"/><rect x="705.75" y="172.30" width="1.50" height="3.80" transform="rotate(90.0 706.5 176.1)"/><rect x="705.75" y="172.30" width="1.50" height="3.80" transform="rotate(135.0 706.5 176.1)"/><rect x="705.75" y="172.30" width="1.50" height="3.80" transform="rotate(180.0 706.5 176.1)"/><rect x="705.75" y="172.30" width="1.50" height="3.80" transform="rotate(225.0 706.5 176.1)"/><rect x="705.75" y="172.30" width="1.50" height="3.80" transform="rotate(270.0 706.5 176.1)"/><rect x="705.75" y="172.30" width="1.50" height="3.80" transform="rotate(315.0 706.5 176.1)"/></g><circle cx="706.5" cy="176.1" r="1.1" fill="#fff"/><rect x="713.80" y="172.60" width="4.60" height="1.40" fill="#d3d6dc"/><rect x="714.80" y="173.80" width="2.60" height="3.00" fill="#d3d6dc"/><rect x="713.30" y="176.60" width="5.60" height="1.30" fill="#d3d6dc"/><rect x="715.70" y="177.80" width="0.80" height="2.40" fill="#d3d6dc"/><g fill="#d3d6dc"><circle cx="845.3" cy="176.1" r="2.8499999999999996"/><rect x="844.55" y="172.30" width="1.50" height="3.80" transform="rotate(0.0 845.3 176.1)"/><rect x="844.55" y="172.30" width="1.50" height="3.80" transform="rotate(45.0 845.3 176.1)"/><rect x="844.55" y="172.30" width="1.50" height="3.80" transform="rotate(90.0 845.3 176.1)"/><rect x="844.55" y="172.30" width="1.50" height="3.80" transform="rotate(135.0 845.3 176.1)"/><rect x="844.55" y="172.30" width="1.50" height="3.80" transform="rotate(180.0 845.3 176.1)"/><rect x="844.55" y="172.30" width="1.50" height="3.80" transform="rotate(225.0 845.3 176.1)"/><rect x="844.55" y="172.30" width="1.50" height="3.80" transform="rotate(270.0 845.3 176.1)"/><rect x="844.55" y="172.30" width="1.50" height="3.80" transform="rotate(315.0 845.3 176.1)"/></g><circle cx="845.3" cy="176.1" r="1.1" fill="#fff"/><rect x="852.60" y="172.60" width="4.60" height="1.40" fill="#d3d6dc"/><rect x="853.60" y="173.80" width="2.60" height="3.00" fill="#d3d6dc"/><rect x="852.10" y="176.60" width="5.60" height="1.30" fill="#d3d6dc"/><rect x="854.50" y="177.80" width="0.80" height="2.40" fill="#d3d6dc"/><g fill="#d3d6dc"><circle cx="428.9" cy="242.1" r="2.8499999999999996"/><rect x="428.15" y="238.30" width="1.50" height="3.80" transform="rotate(0.0 428.9 242.1)"/><rect x="428.15" y="238.30" width="1.50" height="3.80" transform="rotate(45.0 428.9 242.1)"/><rect x="428.15" y="238.30" width="1.50" height="3.80" transform="rotate(90.0 428.9 242.1)"/><rect x="428.15" y="238.30" width="1.50" height="3.80" transform="rotate(135.0 428.9 242.1)"/><rect x="428.15" y="238.30" width="1.50" height="3.80" transform="rotate(180.0 428.9 242.1)"/><rect x="428.15" y="238.30" width="1.50" height="3.80" transform="rotate(225.0 428.9 242.1)"/><rect x="428.15" y="238.30" width="1.50" height="3.80" transform="rotate(270.0 428.9 242.1)"/><rect x="428.15" y="238.30" width="1.50" height="3.80" transform="rotate(315.0 428.9 242.1)"/></g><circle cx="428.9" cy="242.1" r="1.1" fill="#fff"/><rect x="436.20" y="238.60" width="4.60" height="1.40" fill="#d3d6dc"/><rect x="437.20" y="239.80" width="2.60" height="3.00" fill="#d3d6dc"/><rect x="435.70" y="242.60" width="5.60" height="1.30" fill="#d3d6dc"/><rect x="438.10" y="243.80" width="0.80" height="2.40" fill="#d3d6dc"/><g fill="#d3d6dc"><circle cx="567.7" cy="242.1" r="2.8499999999999996"/><rect x="566.95" y="238.30" width="1.50" height="3.80" transform="rotate(0.0 567.7 242.1)"/><rect x="566.95" y="238.30" width="1.50" height="3.80" transform="rotate(45.0 567.7 242.1)"/><rect x="566.95" y="238.30" width="1.50" height="3.80" transform="rotate(90.0 567.7 242.1)"/><rect x="566.95" y="238.30" width="1.50" height="3.80" transform="rotate(135.0 567.7 242.1)"/><rect x="566.95" y="238.30" width="1.50" height="3.80" transform="rotate(180.0 567.7 242.1)"/><rect x="566.95" y="238.30" width="1.50" height="3.80" transform="rotate(225.0 567.7 242.1)"/><rect x="566.95" y="238.30" width="1.50" height="3.80" transform="rotate(270.0 567.7 242.1)"/><rect x="566.95" y="238.30" width="1.50" height="3.80" transform="rotate(315.0 567.7 242.1)"/></g><circle cx="567.7" cy="242.1" r="1.1" fill="#fff"/><rect x="575.00" y="238.60" width="4.60" height="1.40" fill="#d3d6dc"/><rect x="576.00" y="239.80" width="2.60" height="3.00" fill="#d3d6dc"/><rect x="574.50" y="242.60" width="5.60" height="1.30" fill="#d3d6dc"/><rect x="576.90" y="243.80" width="0.80" height="2.40" fill="#d3d6dc"/><polygon points="103.4,384.2 110,384.2 106.7,387.4" fill="#14102e"/><polygon points="226.3,381.7 233.9,381.7 230.10000000000002,378.1" fill="#d2d2d2"/><polygon points="226.3,383.7 233.9,383.7 230.10000000000002,387.5" fill="#d2d2d2"/><polygon points="358,381.7 365.6,381.7 361.8,378.1" fill="#d2d2d2"/><polygon points="358,383.7 365.6,383.7 361.8,387.5" fill="#d2d2d2"/><polygon points="547.7,381.7 555.3000000000001,381.7 551.5,378.1" fill="#d2d2d2"/><polygon points="547.7,383.7 555.3000000000001,383.7 551.5,387.5" fill="#d2d2d2"/><polygon points="702.2,381.7 709.8000000000001,381.7 706.0,378.1" fill="#d2d2d2"/><polygon points="702.2,383.7 709.8000000000001,383.7 706.0,387.5" fill="#d2d2d2"/><g fill="#35354a"><circle cx="799.3" cy="406.5" r="3.4"/><rect x="798.70" y="402.55" width="1.20" height="3.95" transform="rotate(0.0 799.3 406.5)"/><rect x="798.70" y="402.55" width="1.20" height="3.95" transform="rotate(45.0 799.3 406.5)"/><rect x="798.70" y="402.55" width="1.20" height="3.95" transform="rotate(90.0 799.3 406.5)"/><rect x="798.70" y="402.55" width="1.20" height="3.95" transform="rotate(135.0 799.3 406.5)"/><rect x="798.70" y="402.55" width="1.20" height="3.95" transform="rotate(180.0 799.3 406.5)"/><rect x="798.70" y="402.55" width="1.20" height="3.95" transform="rotate(225.0 799.3 406.5)"/><rect x="798.70" y="402.55" width="1.20" height="3.95" transform="rotate(270.0 799.3 406.5)"/><rect x="798.70" y="402.55" width="1.20" height="3.95" transform="rotate(315.0 799.3 406.5)"/></g><circle cx="799.3" cy="406.5" r="1.55" fill="#fff"/><g fill="#35354a"><circle cx="793.8" cy="411.7" r="1.9"/><rect x="793.35" y="409.40" width="0.90" height="2.30" transform="rotate(0.0 793.8 411.7)"/><rect x="793.35" y="409.40" width="0.90" height="2.30" transform="rotate(60.0 793.8 411.7)"/><rect x="793.35" y="409.40" width="0.90" height="2.30" transform="rotate(120.0 793.8 411.7)"/><rect x="793.35" y="409.40" width="0.90" height="2.30" transform="rotate(180.0 793.8 411.7)"/><rect x="793.35" y="409.40" width="0.90" height="2.30" transform="rotate(240.0 793.8 411.7)"/><rect x="793.35" y="409.40" width="0.90" height="2.30" transform="rotate(300.0 793.8 411.7)"/></g><circle cx="793.8" cy="411.7" r="0.85" fill="#fff"/><g fill="#35354a"><circle cx="799.3" cy="433.5" r="3.4"/><rect x="798.70" y="429.55" width="1.20" height="3.95" transform="rotate(0.0 799.3 433.5)"/><rect x="798.70" y="429.55" width="1.20" height="3.95" transform="rotate(45.0 799.3 433.5)"/><rect x="798.70" y="429.55" width="1.20" height="3.95" transform="rotate(90.0 799.3 433.5)"/><rect x="798.70" y="429.55" width="1.20" height="3.95" transform="rotate(135.0 799.3 433.5)"/><rect x="798.70" y="429.55" width="1.20" height="3.95" transform="rotate(180.0 799.3 433.5)"/><rect x="798.70" y="429.55" width="1.20" height="3.95" transform="rotate(225.0 799.3 433.5)"/><rect x="798.70" y="429.55" width="1.20" height="3.95" transform="rotate(270.0 799.3 433.5)"/><rect x="798.70" y="429.55" width="1.20" height="3.95" transform="rotate(315.0 799.3 433.5)"/></g><circle cx="799.3" cy="433.5" r="1.55" fill="#fff"/><g fill="#35354a"><circle cx="793.8" cy="438.7" r="1.9"/><rect x="793.35" y="436.40" width="0.90" height="2.30" transform="rotate(0.0 793.8 438.7)"/><rect x="793.35" y="436.40" width="0.90" height="2.30" transform="rotate(60.0 793.8 438.7)"/><rect x="793.35" y="436.40" width="0.90" height="2.30" transform="rotate(120.0 793.8 438.7)"/><rect x="793.35" y="436.40" width="0.90" height="2.30" transform="rotate(180.0 793.8 438.7)"/><rect x="793.35" y="436.40" width="0.90" height="2.30" transform="rotate(240.0 793.8 438.7)"/><rect x="793.35" y="436.40" width="0.90" height="2.30" transform="rotate(300.0 793.8 438.7)"/></g><circle cx="793.8" cy="438.7" r="0.85" fill="#fff"/><g fill="#35354a"><circle cx="799.3" cy="460.5" r="3.4"/><rect x="798.70" y="456.55" width="1.20" height="3.95" transform="rotate(0.0 799.3 460.5)"/><rect x="798.70" y="456.55" width="1.20" height="3.95" transform="rotate(45.0 799.3 460.5)"/><rect x="798.70" y="456.55" width="1.20" height="3.95" transform="rotate(90.0 799.3 460.5)"/><rect x="798.70" y="456.55" width="1.20" height="3.95" transform="rotate(135.0 799.3 460.5)"/><rect x="798.70" y="456.55" width="1.20" height="3.95" transform="rotate(180.0 799.3 460.5)"/><rect x="798.70" y="456.55" width="1.20" height="3.95" transform="rotate(225.0 799.3 460.5)"/><rect x="798.70" y="456.55" width="1.20" height="3.95" transform="rotate(270.0 799.3 460.5)"/><rect x="798.70" y="456.55" width="1.20" height="3.95" transform="rotate(315.0 799.3 460.5)"/></g><circle cx="799.3" cy="460.5" r="1.55" fill="#fff"/><g fill="#35354a"><circle cx="793.8" cy="465.7" r="1.9"/><rect x="793.35" y="463.40" width="0.90" height="2.30" transform="rotate(0.0 793.8 465.7)"/><rect x="793.35" y="463.40" width="0.90" height="2.30" transform="rotate(60.0 793.8 465.7)"/><rect x="793.35" y="463.40" width="0.90" height="2.30" transform="rotate(120.0 793.8 465.7)"/><rect x="793.35" y="463.40" width="0.90" height="2.30" transform="rotate(180.0 793.8 465.7)"/><rect x="793.35" y="463.40" width="0.90" height="2.30" transform="rotate(240.0 793.8 465.7)"/><rect x="793.35" y="463.40" width="0.90" height="2.30" transform="rotate(300.0 793.8 465.7)"/></g><circle cx="793.8" cy="465.7" r="0.85" fill="#fff"/><g fill="#35354a"><circle cx="799.3" cy="487.5" r="3.4"/><rect x="798.70" y="483.55" width="1.20" height="3.95" transform="rotate(0.0 799.3 487.5)"/><rect x="798.70" y="483.55" width="1.20" height="3.95" transform="rotate(45.0 799.3 487.5)"/><rect x="798.70" y="483.55" width="1.20" height="3.95" transform="rotate(90.0 799.3 487.5)"/><rect x="798.70" y="483.55" width="1.20" height="3.95" transform="rotate(135.0 799.3 487.5)"/><rect x="798.70" y="483.55" width="1.20" height="3.95" transform="rotate(180.0 799.3 487.5)"/><rect x="798.70" y="483.55" width="1.20" height="3.95" transform="rotate(225.0 799.3 487.5)"/><rect x="798.70" y="483.55" width="1.20" height="3.95" transform="rotate(270.0 799.3 487.5)"/><rect x="798.70" y="483.55" width="1.20" height="3.95" transform="rotate(315.0 799.3 487.5)"/></g><circle cx="799.3" cy="487.5" r="1.55" fill="#fff"/><g fill="#35354a"><circle cx="793.8" cy="492.7" r="1.9"/><rect x="793.35" y="490.40" width="0.90" height="2.30" transform="rotate(0.0 793.8 492.7)"/><rect x="793.35" y="490.40" width="0.90" height="2.30" transform="rotate(60.0 793.8 492.7)"/><rect x="793.35" y="490.40" width="0.90" height="2.30" transform="rotate(120.0 793.8 492.7)"/><rect x="793.35" y="490.40" width="0.90" height="2.30" transform="rotate(180.0 793.8 492.7)"/><rect x="793.35" y="490.40" width="0.90" height="2.30" transform="rotate(240.0 793.8 492.7)"/><rect x="793.35" y="490.40" width="0.90" height="2.30" transform="rotate(300.0 793.8 492.7)"/></g><circle cx="793.8" cy="492.7" r="0.85" fill="#fff"/><g fill="#35354a"><circle cx="799.3" cy="514.5" r="3.4"/><rect x="798.70" y="510.55" width="1.20" height="3.95" transform="rotate(0.0 799.3 514.5)"/><rect x="798.70" y="510.55" width="1.20" height="3.95" transform="rotate(45.0 799.3 514.5)"/><rect x="798.70" y="510.55" width="1.20" height="3.95" transform="rotate(90.0 799.3 514.5)"/><rect x="798.70" y="510.55" width="1.20" height="3.95" transform="rotate(135.0 799.3 514.5)"/><rect x="798.70" y="510.55" width="1.20" height="3.95" transform="rotate(180.0 799.3 514.5)"/><rect x="798.70" y="510.55" width="1.20" height="3.95" transform="rotate(225.0 799.3 514.5)"/><rect x="798.70" y="510.55" width="1.20" height="3.95" transform="rotate(270.0 799.3 514.5)"/><rect x="798.70" y="510.55" width="1.20" height="3.95" transform="rotate(315.0 799.3 514.5)"/></g><circle cx="799.3" cy="514.5" r="1.55" fill="#fff"/><g fill="#35354a"><circle cx="793.8" cy="519.7" r="1.9"/><rect x="793.35" y="517.40" width="0.90" height="2.30" transform="rotate(0.0 793.8 519.7)"/><rect x="793.35" y="517.40" width="0.90" height="2.30" transform="rotate(60.0 793.8 519.7)"/><rect x="793.35" y="517.40" width="0.90" height="2.30" transform="rotate(120.0 793.8 519.7)"/><rect x="793.35" y="517.40" width="0.90" height="2.30" transform="rotate(180.0 793.8 519.7)"/><rect x="793.35" y="517.40" width="0.90" height="2.30" transform="rotate(240.0 793.8 519.7)"/><rect x="793.35" y="517.40" width="0.90" height="2.30" transform="rotate(300.0 793.8 519.7)"/></g><circle cx="793.8" cy="519.7" r="0.85" fill="#fff"/><g fill="#35354a"><circle cx="799.3" cy="541.5" r="3.4"/><rect x="798.70" y="537.55" width="1.20" height="3.95" transform="rotate(0.0 799.3 541.5)"/><rect x="798.70" y="537.55" width="1.20" height="3.95" transform="rotate(45.0 799.3 541.5)"/><rect x="798.70" y="537.55" width="1.20" height="3.95" transform="rotate(90.0 799.3 541.5)"/><rect x="798.70" y="537.55" width="1.20" height="3.95" transform="rotate(135.0 799.3 541.5)"/><rect x="798.70" y="537.55" width="1.20" height="3.95" transform="rotate(180.0 799.3 541.5)"/><rect x="798.70" y="537.55" width="1.20" height="3.95" transform="rotate(225.0 799.3 541.5)"/><rect x="798.70" y="537.55" width="1.20" height="3.95" transform="rotate(270.0 799.3 541.5)"/><rect x="798.70" y="537.55" width="1.20" height="3.95" transform="rotate(315.0 799.3 541.5)"/></g><circle cx="799.3" cy="541.5" r="1.55" fill="#fff"/><g fill="#35354a"><circle cx="793.8" cy="546.7" r="1.9"/><rect x="793.35" y="544.40" width="0.90" height="2.30" transform="rotate(0.0 793.8 546.7)"/><rect x="793.35" y="544.40" width="0.90" height="2.30" transform="rotate(60.0 793.8 546.7)"/><rect x="793.35" y="544.40" width="0.90" height="2.30" transform="rotate(120.0 793.8 546.7)"/><rect x="793.35" y="544.40" width="0.90" height="2.30" transform="rotate(180.0 793.8 546.7)"/><rect x="793.35" y="544.40" width="0.90" height="2.30" transform="rotate(240.0 793.8 546.7)"/><rect x="793.35" y="544.40" width="0.90" height="2.30" transform="rotate(300.0 793.8 546.7)"/></g><circle cx="793.8" cy="546.7" r="0.85" fill="#fff"/><g fill="#35354a"><circle cx="799.3" cy="568.5" r="3.4"/><rect x="798.70" y="564.55" width="1.20" height="3.95" transform="rotate(0.0 799.3 568.5)"/><rect x="798.70" y="564.55" width="1.20" height="3.95" transform="rotate(45.0 799.3 568.5)"/><rect x="798.70" y="564.55" width="1.20" height="3.95" transform="rotate(90.0 799.3 568.5)"/><rect x="798.70" y="564.55" width="1.20" height="3.95" transform="rotate(135.0 799.3 568.5)"/><rect x="798.70" y="564.55" width="1.20" height="3.95" transform="rotate(180.0 799.3 568.5)"/><rect x="798.70" y="564.55" width="1.20" height="3.95" transform="rotate(225.0 799.3 568.5)"/><rect x="798.70" y="564.55" width="1.20" height="3.95" transform="rotate(270.0 799.3 568.5)"/><rect x="798.70" y="564.55" width="1.20" height="3.95" transform="rotate(315.0 799.3 568.5)"/></g><circle cx="799.3" cy="568.5" r="1.55" fill="#fff"/><g fill="#35354a"><circle cx="793.8" cy="573.7" r="1.9"/><rect x="793.35" y="571.40" width="0.90" height="2.30" transform="rotate(0.0 793.8 573.7)"/><rect x="793.35" y="571.40" width="0.90" height="2.30" transform="rotate(60.0 793.8 573.7)"/><rect x="793.35" y="571.40" width="0.90" height="2.30" transform="rotate(120.0 793.8 573.7)"/><rect x="793.35" y="571.40" width="0.90" height="2.30" transform="rotate(180.0 793.8 573.7)"/><rect x="793.35" y="571.40" width="0.90" height="2.30" transform="rotate(240.0 793.8 573.7)"/><rect x="793.35" y="571.40" width="0.90" height="2.30" transform="rotate(300.0 793.8 573.7)"/></g><circle cx="793.8" cy="573.7" r="0.85" fill="#fff"/><g fill="#35354a"><circle cx="799.3" cy="595.5" r="3.4"/><rect x="798.70" y="591.55" width="1.20" height="3.95" transform="rotate(0.0 799.3 595.5)"/><rect x="798.70" y="591.55" width="1.20" height="3.95" transform="rotate(45.0 799.3 595.5)"/><rect x="798.70" y="591.55" width="1.20" height="3.95" transform="rotate(90.0 799.3 595.5)"/><rect x="798.70" y="591.55" width="1.20" height="3.95" transform="rotate(135.0 799.3 595.5)"/><rect x="798.70" y="591.55" width="1.20" height="3.95" transform="rotate(180.0 799.3 595.5)"/><rect x="798.70" y="591.55" width="1.20" height="3.95" transform="rotate(225.0 799.3 595.5)"/><rect x="798.70" y="591.55" width="1.20" height="3.95" transform="rotate(270.0 799.3 595.5)"/><rect x="798.70" y="591.55" width="1.20" height="3.95" transform="rotate(315.0 799.3 595.5)"/></g><circle cx="799.3" cy="595.5" r="1.55" fill="#fff"/><g fill="#35354a"><circle cx="793.8" cy="600.7" r="1.9"/><rect x="793.35" y="598.40" width="0.90" height="2.30" transform="rotate(0.0 793.8 600.7)"/><rect x="793.35" y="598.40" width="0.90" height="2.30" transform="rotate(60.0 793.8 600.7)"/><rect x="793.35" y="598.40" width="0.90" height="2.30" transform="rotate(120.0 793.8 600.7)"/><rect x="793.35" y="598.40" width="0.90" height="2.30" transform="rotate(180.0 793.8 600.7)"/><rect x="793.35" y="598.40" width="0.90" height="2.30" transform="rotate(240.0 793.8 600.7)"/><rect x="793.35" y="598.40" width="0.90" height="2.30" transform="rotate(300.0 793.8 600.7)"/></g><circle cx="793.8" cy="600.7" r="0.85" fill="#fff"/></svg>
</body></html>
